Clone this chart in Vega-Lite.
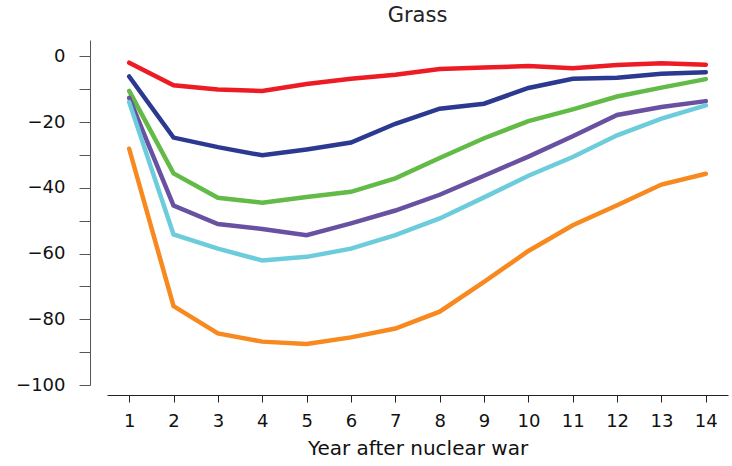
{
  "$schema": "https://vega.github.io/schema/vega-lite/v6.json",
  "autosize": "none",
  "width": 621,
  "height": 345,
  "padding": {"left": 107, "top": 40, "right": 4, "bottom": 81},
  "background": "white",
  "config": {"view": {"stroke": null}, "font": "DejaVu Sans"},
  "title": {"text": "Grass", "fontSize": 21, "fontWeight": "normal", "color": "#222", "offset": 14, "font": "DejaVu Sans"},
  "data": {"values": [
    {"year":1,"s":"a","v":-1.9},{"year":2,"s":"a","v":-8.8},{"year":3,"s":"a","v":-10.1},{"year":4,"s":"a","v":-10.5},{"year":5,"s":"a","v":-8.4},{"year":6,"s":"a","v":-6.8},{"year":7,"s":"a","v":-5.6},{"year":8,"s":"a","v":-3.8},{"year":9,"s":"a","v":-3.4},{"year":10,"s":"a","v":-2.9},{"year":11,"s":"a","v":-3.6},{"year":12,"s":"a","v":-2.6},{"year":13,"s":"a","v":-2.1},{"year":14,"s":"a","v":-2.5},
    {"year":1,"s":"b","v":-6.1},{"year":2,"s":"b","v":-24.7},{"year":3,"s":"b","v":-27.6},{"year":4,"s":"b","v":-30.1},{"year":5,"s":"b","v":-28.3},{"year":6,"s":"b","v":-26.2},{"year":7,"s":"b","v":-20.5},{"year":8,"s":"b","v":-15.9},{"year":9,"s":"b","v":-14.4},{"year":10,"s":"b","v":-9.6},{"year":11,"s":"b","v":-6.8},{"year":12,"s":"b","v":-6.5},{"year":13,"s":"b","v":-5.3},{"year":14,"s":"b","v":-4.8},
    {"year":1,"s":"c","v":-10.5},{"year":2,"s":"c","v":-35.6},{"year":3,"s":"c","v":-43.0},{"year":4,"s":"c","v":-44.5},{"year":5,"s":"c","v":-42.8},{"year":6,"s":"c","v":-41.2},{"year":7,"s":"c","v":-37.1},{"year":8,"s":"c","v":-30.9},{"year":9,"s":"c","v":-24.9},{"year":10,"s":"c","v":-19.7},{"year":11,"s":"c","v":-16.1},{"year":12,"s":"c","v":-12.2},{"year":13,"s":"c","v":-9.5},{"year":14,"s":"c","v":-6.9},
    {"year":1,"s":"d","v":-12.6},{"year":2,"s":"d","v":-45.4},{"year":3,"s":"d","v":-51.0},{"year":4,"s":"d","v":-52.5},{"year":5,"s":"d","v":-54.4},{"year":6,"s":"d","v":-50.8},{"year":7,"s":"d","v":-46.9},{"year":8,"s":"d","v":-42.1},{"year":9,"s":"d","v":-36.3},{"year":10,"s":"d","v":-30.5},{"year":11,"s":"d","v":-24.3},{"year":12,"s":"d","v":-17.8},{"year":13,"s":"d","v":-15.4},{"year":14,"s":"d","v":-13.6},
    {"year":1,"s":"e","v":-13.9},{"year":2,"s":"e","v":-54.2},{"year":3,"s":"e","v":-58.5},{"year":4,"s":"e","v":-62.1},{"year":5,"s":"e","v":-61.0},{"year":6,"s":"e","v":-58.5},{"year":7,"s":"e","v":-54.4},{"year":8,"s":"e","v":-49.3},{"year":9,"s":"e","v":-42.9},{"year":10,"s":"e","v":-36.3},{"year":11,"s":"e","v":-30.6},{"year":12,"s":"e","v":-24.0},{"year":13,"s":"e","v":-18.9},{"year":14,"s":"e","v":-14.9},
    {"year":1,"s":"f","v":-28.1},{"year":2,"s":"f","v":-76.0},{"year":3,"s":"f","v":-84.3},{"year":4,"s":"f","v":-86.8},{"year":5,"s":"f","v":-87.5},{"year":6,"s":"f","v":-85.5},{"year":7,"s":"f","v":-82.8},{"year":8,"s":"f","v":-77.7},{"year":9,"s":"f","v":-68.6},{"year":10,"s":"f","v":-59.2},{"year":11,"s":"f","v":-51.4},{"year":12,"s":"f","v":-45.3},{"year":13,"s":"f","v":-39.0},{"year":14,"s":"f","v":-35.7}
  ]},
  "mark": {"type": "line", "strokeWidth": 4.5, "strokeJoin": "miter", "strokeCap": "round"},
  "encoding": {
    "x": {"field": "year", "type": "quantitative",
      "scale": {"domain": [0.5, 14.5], "nice": false, "zero": false},
      "axis": {"title": "Year after nuclear war", "values": [1,2,3,4,5,6,7,8,9,10,11,12,13,14], "grid": false,
        "offset": 10, "tickSize": 7, "tickColor": "#222", "domainColor": "#222", "labelFontSize": 18, "labelColor": "#111",
        "labelPadding": 10, "titleFontSize": 20, "titleFontWeight": "normal", "titleColor": "#111", "titlePadding": 8}},
    "y": {"field": "v", "type": "quantitative",
      "scale": {"domain": [-100, 5], "nice": false, "zero": false},
      "axis": {"title": null, "values": [-100,-90,-80,-70,-60,-50,-40,-30,-20,-10,0], "grid": false,
        "labelExpr": "datum.value % 20 == 0 ? replace(format(datum.value, 'd'), '-', '–') : ''",
        "offset": 17, "tickSize": 11, "tickColor": "#555", "domainColor": "#555", "labelFontSize": 18, "labelColor": "#111",
        "labelPadding": 14}},
    "color": {"field": "s", "type": "nominal", "legend": null,
      "scale": {"domain": ["a","b","c","d","e","f"], "range": ["#ED1C24","#2B3990","#62BB46","#6951A1","#6CCCDB","#F7891F"]}}
  }
}
